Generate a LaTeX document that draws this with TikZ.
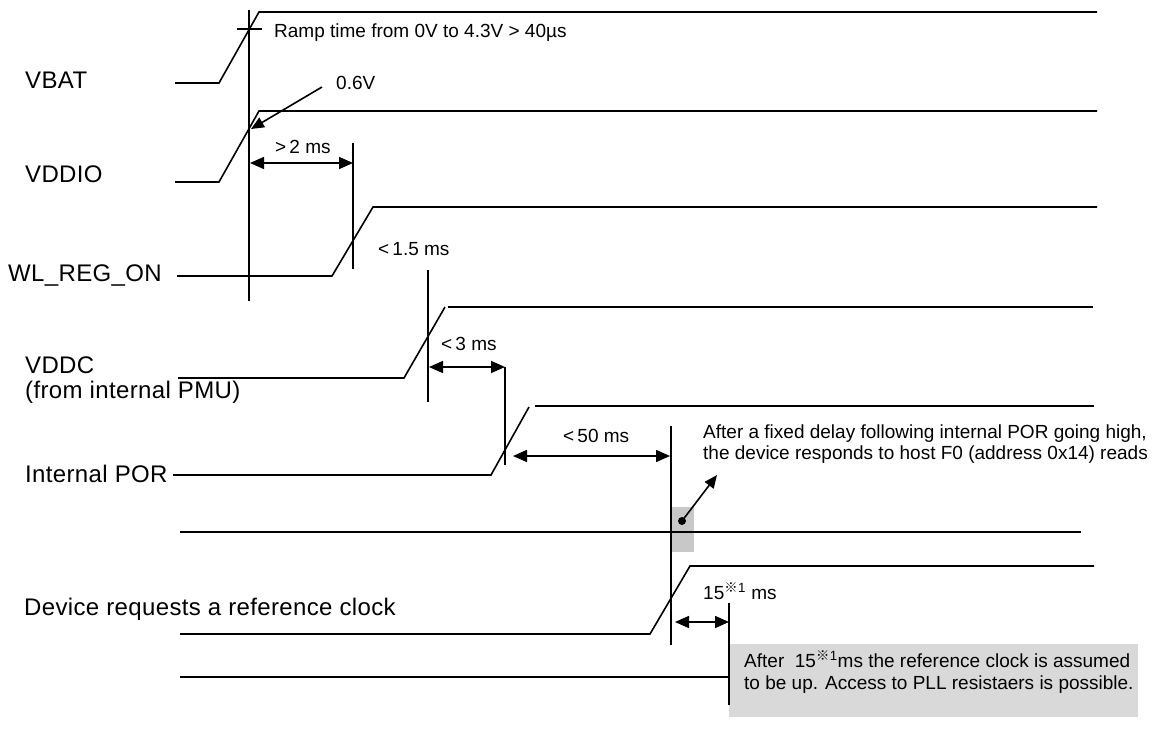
\documentclass[tikz,border=0pt]{standalone}
\usepackage{fontspec}
\setmainfont{Liberation Sans}
\newfontfamily\cjkmark{Noto Sans CJK JP}
\newfontfamily\lblface[LetterSpace=1.5]{Liberation Sans}
\usetikzlibrary{arrows.meta}
\definecolor{boxgray}{RGB}{217,217,217}
\definecolor{markgray}{RGB}{200,200,200}
\newcommand\lblfont{\lblface\fontsize{24}{27}\selectfont}
\newcommand\smlfont{\fontsize{19}{22}\selectfont}
\newcommand\refmark{\textsuperscript{\cjkmark ※}\textsuperscript{1}}
\begin{document}
\begin{tikzpicture}[x=1pt,y=-1pt,
  sig/.style={line width=1.6pt},
  marker/.style={line width=1.6pt},
  dim/.style={line width=1.6pt,{Triangle[length=14pt,width=12pt]}-{Triangle[length=14pt,width=12pt]}},
  pointer/.style={line width=1.6pt,-{Triangle[length=13pt,width=11pt]}},
  lbl/.style={anchor=base west,inner sep=0pt,font=\lblfont},
  sml/.style={anchor=base west,inner sep=0pt,font=\smlfont},
]
\useasboundingbox (0,0) rectangle (1163,731);
\fill[white] (0,0) rectangle (1163,731);

% shaded areas
\fill[markgray] (672,507) rectangle (694,552);
\node[draw=none,fill=boxgray,anchor=north west,minimum width=409pt,minimum height=73pt,inner sep=0pt] (box) at (729,644) {};

% signal labels
\node[lbl] (lvbat) at (25,88) {VBAT};
\node[lbl] (lvddio) at (25,182) {VDDIO};
\node[lbl] (lwl) at (8,281) {WL\_REG\_ON};
\node[lbl] (lvddc) at (25,373) {VDDC};
\node[lbl] (lpmu) at (25,398) {(from internal PMU)};
\node[lbl] (lpor) at (25,482) {Internal POR};
\node[lbl] (ldev) at (24,615) {Device requests a reference clock};

% signals
\draw[sig] (175,83) -- (219,83) -- (259,12) -- (1097,12);
\draw[sig] (175,182) -- (219,182) -- (259,111) -- (1097,111);
\draw[sig] (177,276) -- (332,276) -- (373,207) -- (1097,207);
\draw[sig] (178,378) -- (404,378) -- (445,307);
\draw[sig] (448,307) -- (1093,307);
\draw[sig] (173,475) -- (491,475) -- (529,407);
\draw[sig] (535,406) -- (1094,406);
\draw[sig] (180,532) -- (1081,532);
\draw[sig] (180,634) -- (650,634) -- (690,566) -- (1094,566);
\draw[sig] (180,677) -- (729,677);

% markers
\coordinate (m1t) at (249,10);  \coordinate (m1b) at (249,301);
\coordinate (m2t) at (353,143); \coordinate (m2b) at (353,269);
\coordinate (m3t) at (428,270); \coordinate (m3b) at (428,402);
\coordinate (m4t) at (505,367); \coordinate (m4b) at (505,465);
\coordinate (m5t) at (671,426); \coordinate (m5b) at (671,645);
\coordinate (m6t) at (729,603); \coordinate (m6b) at (729,705);
\draw[marker] (m1t) -- (m1b);
\draw[marker] (237,29) -- (262,29);
\draw[marker] (m2t) -- (m2b);
\draw[marker] (m3t) -- (m3b);
\draw[marker] (m4t) -- (m4b);
\draw[marker] (m5t) -- (m5b);
\draw[marker] (m6t) -- (m6b);

% dimension arrows
\coordinate (a1l) at (250,163); \coordinate (a1r) at (353,163);
\coordinate (a2l) at (429,367); \coordinate (a2r) at (505,367);
\coordinate (a3l) at (513,456); \coordinate (a3r) at (670,456);
\coordinate (a4l) at (675,622); \coordinate (a4r) at (729,622);
\draw[dim] (a1l) -- (a1r);
\draw[dim] (a2l) -- (a2r);
\draw[dim] (a3l) -- (a3r);
\draw[dim] (a4l) -- (a4r);

% texts
\node[sml] (tramp) at (274,37) {Ramp time from 0V to 4.3V > 40\textmu s};
\node[sml] (t06) at (336,89) {0.6V};
\node[sml] (t2ms) at (275,153) {>\,2 ms};
\node[sml] (t15) at (378,255) {<\,1.5 ms};
\node[sml] (t3) at (441,350) {<\,3 ms};
\node[sml] (t50) at (563,442) {<\,50 ms};
\node[sml] (tpor1) at (703,438) {After a fixed delay following internal POR going high,};
\node[sml] (tpor2) at (703,459) {the device responds to host F0 (address 0x14) reads};
\node[sml] (t15ms) at (703,599) {15\refmark\ ms};
\node[sml] (tbox1) at (744,667) {After\ \ 15\refmark ms the reference clock is assumed};
\node[sml] (tbox2) at (744,689) {to be up. Access to PLL resistaers is possible.};

% pointers
\coordinate (p06) at (322,87); \coordinate (p06e) at (251,129);
\draw[pointer] (p06) -- (p06e);
\coordinate (pdot) at (682,521); \coordinate (pdote) at (717,475);
\fill (pdot) circle (4pt);
\draw[pointer] (pdot) -- (pdote);
\end{tikzpicture}
\end{document}
